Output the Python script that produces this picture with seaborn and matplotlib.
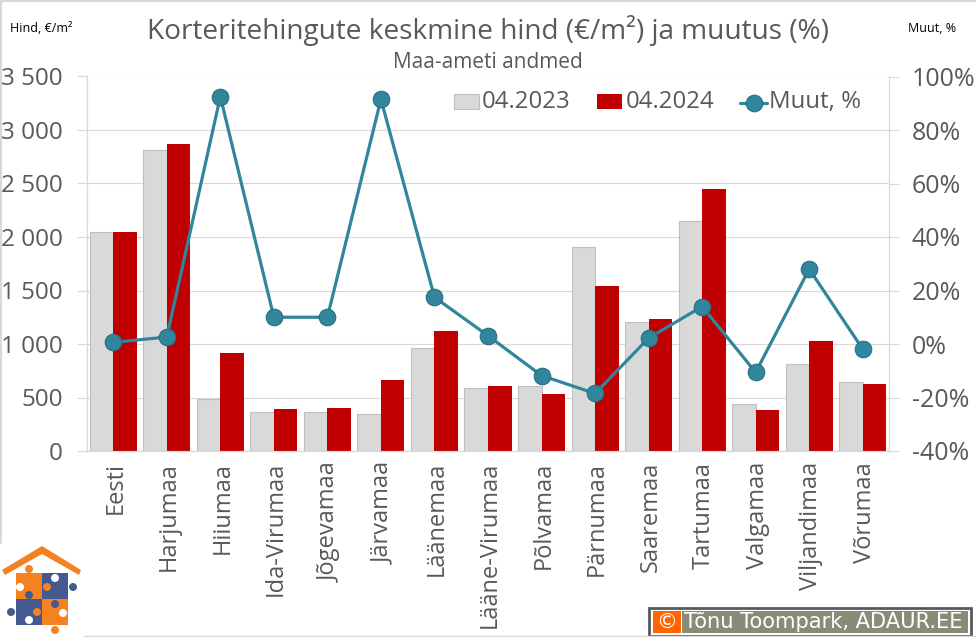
import matplotlib
matplotlib.use('Agg')
import matplotlib.pyplot as plt
from matplotlib.patches import Rectangle, Circle, Polygon
from matplotlib.transforms import ScaledTranslation
import seaborn as sns
import pandas as pd

maakonnad = ['Eesti', 'Harjumaa', 'Hiiumaa', 'Ida-Virumaa', 'Jõgevamaa', 'Järvamaa', 'Läänemaa',
             'Lääne-Virumaa', 'Põlvamaa', 'Pärnumaa', 'Saaremaa', 'Tartumaa', 'Valgamaa',
             'Viljandimaa', 'Võrumaa']
hind_2023 = [2045, 2810, 484, 362, 362, 344, 962, 587, 603, 1905, 1210, 2150, 437, 812, 644]
hind_2024 = [2045, 2870, 919, 394, 403, 666, 1125, 609, 534, 1540, 1235, 2450, 384, 1031, 628]
muutus = [0.6, 2.6, 92.5, 10, 10, 91.5, 17.5, 3.1, -11.8, -18.5, 2.2, 14, -10.6, 28, -1.9]
hind_ticks = [0, 500, 1000, 1500, 2000, 2500, 3000, 3500]
muut_ticks = [-40, -20, 0, 20, 40, 60, 80, 100]

W, H = 976, 637
TXT = '#595959'
GRID = '#d9d9d9'
TEAL = '#31859c'

sns.set_theme(style='white')
plt.rcParams['font.family'] = ['Open Sans', 'DejaVu Sans']

df = pd.DataFrame({'maakond': maakonnad, '04.2023': hind_2023, '04.2024': hind_2024})
df = df.melt(id_vars='maakond', var_name='aasta', value_name='hind')

fig = plt.figure(figsize=(W / 100, H / 100), dpi=100)
ax = fig.add_axes([86.5 / W, 1 - 451 / H, 803 / W, 374.5 / H])

sns.barplot(data=df, x='maakond', y='hind', hue='aasta', palette=['#d9d9d9', '#c00000'],
            width=0.88, gap=0, saturation=1, edgecolor='none', linewidth=0, ax=ax, legend=False, zorder=2)
for bar in ax.containers[0]:
    bar.set_edgecolor('#bfbfbf')
    bar.set_linewidth(0.8)

ax.set_xlim(-0.5, 14.5)
ax.set_ylim(0, 3500)
ax.set_yticks(hind_ticks)
ax.set_yticklabels([f'{v:,}'.replace(',', ' ') for v in hind_ticks])
ax.set_xlabel('')
ax.set_ylabel('')
ax.grid(axis='y', color=GRID, lw=0.8)
ax.set_axisbelow(True)
ax.tick_params(axis='y', length=7, width=0.8, color=GRID, labelcolor=TXT, labelsize=17.5, pad=10, left=True)
ax.tick_params(axis='x', length=0, labelcolor=TXT, labelsize=17, pad=8)
plt.setp(ax.get_xticklabels(), rotation=90)
# labels sit a touch right of the group centre
for lab in ax.get_xticklabels():
    lab.set_transform(lab.get_transform() + ScaledTranslation(2 / 100, 0, fig.dpi_scale_trans))
ax.spines['top'].set_visible(False)
for s in ['left', 'right', 'bottom']:
    ax.spines[s].set_color(GRID)
    ax.spines[s].set_linewidth(0.8)

ax2 = ax.twinx()
sns.lineplot(x=maakonnad, y=muutus, sort=False, color=TEAL, lw=2.3, marker='o', ms=12,
             mec='#26687a', mew=0.7, ax=ax2, zorder=5)
ax2.set_ylim(-40, 100)
ax2.set_yticks(muut_ticks)
ax2.set_yticklabels([f'{v}%' for v in muut_ticks])
ax2.grid(False)
ax2.tick_params(axis='y', length=7, width=0.8, color=GRID, labelcolor=TXT, labelsize=18, pad=9, right=True)
ax2.spines['top'].set_visible(False)
for s in ['left', 'right', 'bottom']:
    ax2.spines[s].set_color(GRID)
    ax2.spines[s].set_linewidth(0.8)

def px(x, y):
    return x / W, 1 - y / H

fig.text(*px(488, 30), 'Korteritehingute keskmine hind (€/m²) ja muutus (%)', ha='center', va='center',
         fontsize=20.2, color=TXT)
fig.text(*px(488, 63), 'Maa-ameti andmed', ha='center', va='center', fontsize=15, color=TXT)
fig.text(*px(10, 28), 'Hind, €/m²', ha='left', va='center', fontsize=9, color='black')
fig.text(*px(908, 28), 'Muut, %', ha='left', va='center', fontsize=9, color='black')

# legend drawn by hand so it sits exactly as in the original
fig.add_artist(Rectangle(px(454, 109), 25 / W, 15 / H, fc='#d9d9d9', ec='#bfbfbf', lw=0.8))
fig.text(*px(482, 102), '04.2023', ha='left', va='center', fontsize=17.3, color=TXT)
fig.add_artist(Rectangle(px(597, 109), 25 / W, 15 / H, fc='#c00000', ec='none'))
fig.text(*px(626, 102), '04.2024', ha='left', va='center', fontsize=17.3, color=TXT)
leg = ax.figure.add_axes([0, 0, 1, 1], facecolor='none')
leg.set_xlim(0, W)
leg.set_ylim(H, 0)
leg.axis('off')
leg.plot([740, 767], [103, 103], color=TEAL, lw=2.3)
leg.plot([753.5], [103], 'o', color=TEAL, ms=12, mec='#26687a', mew=0.7)
fig.text(*px(769, 102), 'Muut, %', ha='left', va='center', fontsize=17.3, color=TXT)

# outer chart frame, only top and left show
leg.plot([1, 1, W], [543, 1, 1], color=GRID, lw=1.5)
leg.plot([84, W], [636, 636], color=GRID, lw=1)

# logo
ORANGE = '#f58220'
BLUE = '#44598f'
leg.add_patch(Rectangle((0, 543), 84, 94, fc='white', ec='none'))
leg.add_patch(Polygon([(2, 570), (42, 546), (81, 570), (79, 575), (42, 554), (5, 575)], fc=ORANGE, ec='none'))
leg.add_patch(Rectangle((16, 573), 26, 26, fc=ORANGE, ec='none'))
leg.add_patch(Rectangle((42, 573), 26, 26, fc=BLUE, ec='none'))
leg.add_patch(Rectangle((16, 599), 26, 26, fc=BLUE, ec='none'))
leg.add_patch(Rectangle((42, 599), 26, 26, fc=ORANGE, ec='none'))
for x, y, c in [(29, 569, ORANGE), (73, 587, BLUE), (11, 612, BLUE), (55, 630, ORANGE),
                (47, 587, ORANGE), (29, 595, BLUE), (55, 604, BLUE), (37, 612, ORANGE)]:
    leg.add_patch(Circle((x, y), 4, fc=c, ec='none'))
for x, y in [(20, 587), (55, 578), (29, 620), (63, 613)]:
    leg.add_patch(Circle((x, y), 4, fc='white', ec='none'))

# copyright badge
leg.add_patch(Rectangle((649, 607.5), 322, 28, fc='white', ec='#595959', lw=2))
leg.add_patch(Rectangle((652.5, 611), 28, 21.5, fc='#ff6600', ec='none'))
leg.add_patch(Rectangle((682, 611), 286, 21.5, fc='#8a8a76', ec='none'))
leg.text(666.5, 621.5, '©', color='white', fontsize=15, ha='center', va='center', family='DejaVu Sans')
leg.text(684, 621.5, 'Tõnu Toompark, ADAUR.EE', color='white', fontsize=15.1, ha='left', va='center',
         family='DejaVu Sans')

fig.savefig('out.png', dpi=100, facecolor='white')
